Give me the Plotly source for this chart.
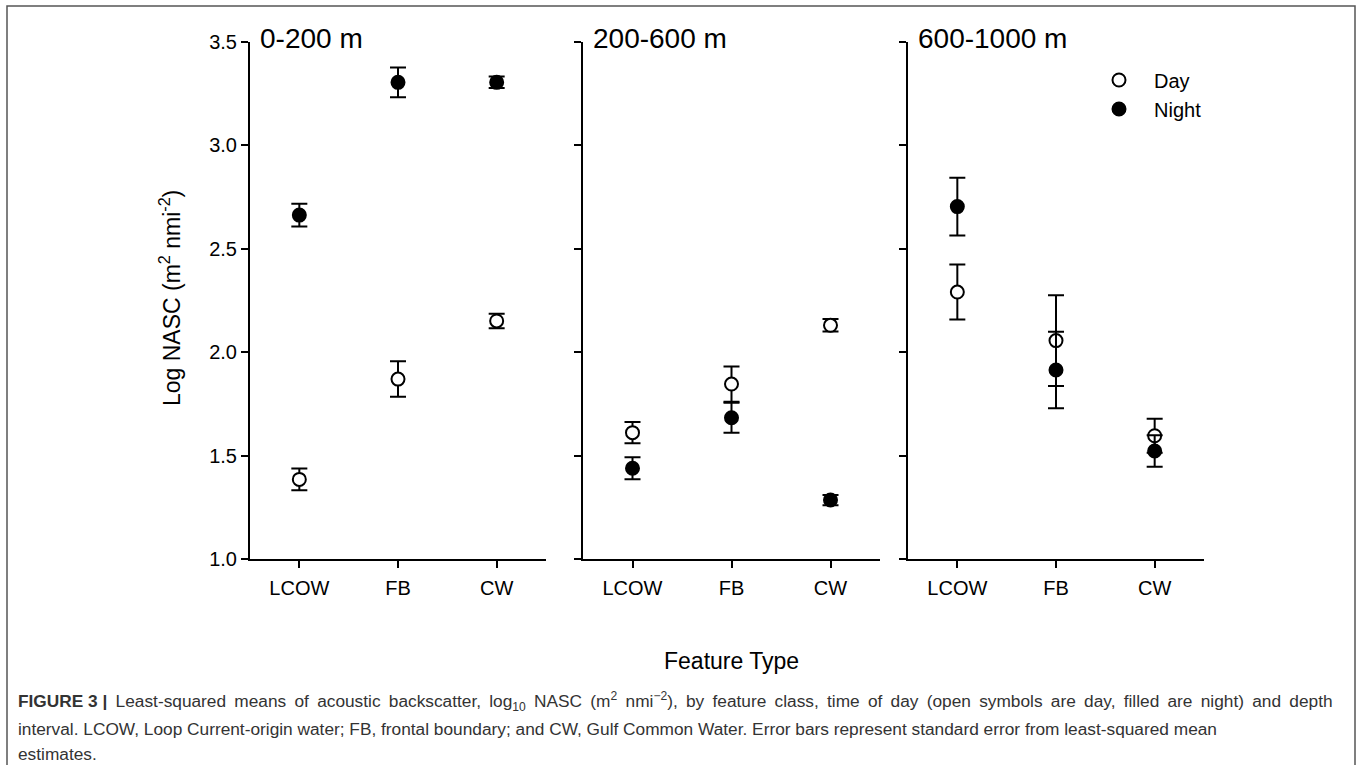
import plotly.graph_objects as go

# ---- data ----
categories = ["LCOW", "FB", "CW"]
panel_titles = ["0-200 m", "200-600 m", "600-1000 m"]

day_0_200 = [1.385, 1.870, 2.151]
day_se_0_200 = [0.053, 0.086, 0.035]
night_0_200 = [2.663, 3.305, 3.305]
night_se_0_200 = [0.055, 0.072, 0.028]

day_200_600 = [1.611, 1.846, 2.130]
day_se_200_600 = [0.051, 0.085, 0.030]
night_200_600 = [1.439, 1.683, 1.285]
night_se_200_600 = [0.053, 0.072, 0.025]

day_600_1000 = [2.291, 2.056, 1.596]
day_se_600_1000 = [0.133, 0.219, 0.082]
night_600_1000 = [2.704, 1.914, 1.522]
night_se_600_1000 = [0.140, 0.185, 0.076]

y_ticks = [1.0, 1.5, 2.0, 2.5, 3.0, 3.5]

day_series = [day_0_200, day_200_600, day_600_1000]
day_se = [day_se_0_200, day_se_200_600, day_se_600_1000]
night_series = [night_0_200, night_200_600, night_600_1000]
night_se = [night_se_0_200, night_se_200_600, night_se_600_1000]

# ---- layout geometry (pixels) ----
W, H = 1360, 765
FONT = "Arial, Liberation Sans, sans-serif"
panel_px = [(250, 546), (583, 880), (908, 1204)]
y_top_px, y_bot_px = 42, 559

fig = go.Figure()

for i in range(3):
    xa = "x" if i == 0 else f"x{i+1}"
    ya = "y" if i == 0 else f"y{i+1}"
    fig.add_trace(go.Scatter(
        x=categories, y=day_series[i], xaxis=xa, yaxis=ya,
        mode="markers", name="Day", showlegend=(i == 0), legendrank=1,
        marker=dict(symbol="circle", size=13, color="white",
                    line=dict(color="black", width=2)),
        error_y=dict(type="data", array=day_se[i], visible=True,
                     color="black", thickness=2, width=8),
    ))
    fig.add_trace(go.Scatter(
        x=categories, y=night_series[i], xaxis=xa, yaxis=ya,
        mode="markers", name="Night", showlegend=(i == 0), legendrank=2,
        marker=dict(symbol="circle", size=13, color="black",
                    line=dict(color="black", width=2)),
        error_y=dict(type="data", array=night_se[i], visible=True,
                     color="black", thickness=2, width=8),
    ))

layout_axes = {}
for i, (x0, x1) in enumerate(panel_px):
    xkey = "xaxis" if i == 0 else f"xaxis{i+1}"
    ykey = "yaxis" if i == 0 else f"yaxis{i+1}"
    anchor_y = "y" if i == 0 else f"y{i+1}"
    anchor_x = "x" if i == 0 else f"x{i+1}"
    layout_axes[xkey] = dict(
        domain=[x0 / W, x1 / W], anchor=anchor_y, automargin=False,
        type="category", range=[-0.5, 2.5],
        showline=True, linewidth=2, linecolor="black",
        ticks="outside", ticklen=7, tickwidth=2, tickcolor="black",
        showgrid=False, zeroline=False,
        tickfont=dict(family=FONT, size=20, color="black"),
        ticklabelstandoff=3,
    )
    layout_axes[ykey] = dict(
        domain=[(H - y_bot_px) / H, (H - y_top_px) / H], anchor=anchor_x,
        automargin=False,
        range=[1.0, 3.5], tickmode="array", tickvals=y_ticks,
        ticktext=[f"{v:.1f}" for v in y_ticks],
        showticklabels=(i == 0),
        showline=True, linewidth=2, linecolor="black",
        ticks="outside", ticklen=7, tickwidth=2, tickcolor="black",
        showgrid=False, zeroline=False,
        tickfont=dict(family=FONT, size=20, color="black"),
    )

annotations = []
for i, (x0, x1) in enumerate(panel_px):
    annotations.append(dict(
        text=panel_titles[i], xref="paper", yref="paper",
        x=(x0 + 8) / W, y=(H - 38) / H, xanchor="left", yanchor="middle",
        showarrow=False, font=dict(family=FONT, size=28, color="black"),
    ))

annotations.append(dict(
    text="Log NASC (m<sup>2</sup> nmi<sup>-2</sup>)", textangle=-90,
    xref="paper", yref="paper", x=170 / W, y=(H - 298) / H,
    xanchor="center", yanchor="middle", showarrow=False,
    font=dict(family=FONT, size=23, color="black"),
))
annotations.append(dict(
    text="Feature Type", xref="paper", yref="paper",
    x=731 / W, y=(H - 661) / H, xanchor="center", yanchor="middle",
    showarrow=False, font=dict(family=FONT, size=23, color="black"),
))

# first caption line is set with slightly wider word spacing (justified in the source)
line1 = ("<b>FIGURE 3 |</b> Least-squared means of acoustic backscatter, log<sub>10</sub> "
         "NASC (m<sup>2</sup> nmi<sup>\u22122</sup>), by feature class, time of day "
         "(open symbols are day, filled are night) and depth")
line1 = line1.replace("<b>FIGURE 3 |</b>", "<b>FIGURE\u00a03\u00a0|</b>")
line1 = line1.replace(" ", " \u2009")
caption_lines = [
    line1,
    "interval. LCOW, Loop Current-origin water; FB, frontal boundary; and CW, Gulf Common Water. Error bars represent standard error from least-squared mean",
    "estimates.",
]
caption_y = [701, 729, 754]
for line, yy in zip(caption_lines, caption_y):
    annotations.append(dict(
        text=line, xref="paper", yref="paper", x=17 / W, y=(H - yy) / H,
        xanchor="left", yanchor="middle", showarrow=False, align="left",
        borderpad=0,
        font=dict(family=FONT, size=17.3, color="#333333"),
    ))

fig.update_layout(
    width=W, height=H,
    margin=dict(l=0, r=0, t=0, b=0, autoexpand=False),
    paper_bgcolor="white", plot_bgcolor="white",
    showlegend=True,
    legend=dict(
        x=1084 / W, y=(H - 60.5) / H, xanchor="left", yanchor="top",
        bgcolor="rgba(0,0,0,0)", borderwidth=0,
        font=dict(family=FONT, size=20, color="black"),
        itemwidth=60, tracegroupgap=0,
    ),
    annotations=annotations,
    shapes=[dict(type="rect", xref="paper", yref="paper",
                 x0=7 / W, x1=1355 / W, y0=-0.05, y1=(H - 6) / H,
                 line=dict(color="#555555", width=1.5), fillcolor="rgba(0,0,0,0)",
                 layer="below")],
    **layout_axes,
)

fig.write_html(
    "out.html",
    config={"displayModeBar": False},
    post_script="document.body.style.margin='0';document.body.style.overflow='hidden';",
)
